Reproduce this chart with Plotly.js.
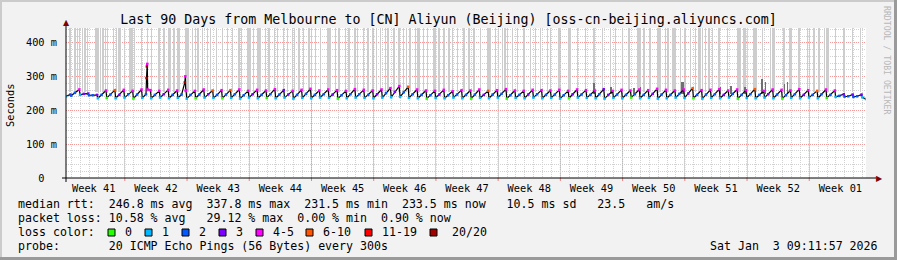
<!DOCTYPE html>
<html>
<head>
<meta charset="utf-8">
<script src="https://cdn.plot.ly/plotly-3.0.1.min.js"></script>
<style>
html,body{margin:0;padding:0;background:#f2f2f2;}
#chart{width:897px;height:260px;}
</style>
</head>
<body>
<div id="chart"></div>
<script>
// ---------------- DATA ----------------
const titleText = "Last 90 Days from Melbourne to [CN] Aliyun (Beijing) [oss-cn-beijing.aliyuncs.com]";
const weekLabels = ["Week 41","Week 42","Week 43","Week 44","Week 45","Week 46","Week 47","Week 48","Week 49","Week 50","Week 51","Week 52","Week 01"];
const yTickVals = [0, 100, 200, 300, 400];
const yTickText = ["0\u00a0\u00a0", "100 m", "200 m", "300 m", "400 m"];

// daily median RTT (ms): value at day start, evening peak, post-drop low
const rttMid = [
 242,252,249,245,246,247,246,248,247,248,
 246,248,246,247,246,247,248,246,247,248,
 245,248,246,248,247,247,246,249,246,248,
 247,245,248,248,246,248,251,255,254,248,
 246,245,247,245,247,246,247,246,247,249,
 245,246,247,248,246,247,245,248,247,246,
 248,246,247,246,248,246,249,247,246,249,
 250,246,247,248,246,249,246,248,246,248,
 247,245,248,246,246,248,246,243,242,242];
const rttPeak = [
 247,262,250,246,259,260,261,258,262,260,
 258,261,259,260,258,262,259,260,260,262,
 258,261,259,263,260,258,261,264,259,262,
 260,258,263,261,259,262,266,272,270,262,
 259,258,261,257,260,259,262,258,260,263,
 259,258,261,260,259,261,258,262,260,259,
 263,258,261,259,262,260,264,261,259,262,
 266,260,261,263,259,262,260,263,258,262,
 261,259,263,260,258,262,259,248,247,247];
const rttLow = [
 244,246,245,236,237,236,238,235,237,236,
 238,236,237,235,236,238,237,236,237,235,
 238,236,237,236,238,235,237,236,238,237,
 235,236,238,237,236,238,239,240,237,236,
 235,237,236,238,236,235,237,236,238,235,
 237,236,238,236,237,235,236,238,237,236,
 235,237,236,238,236,237,235,236,238,237,
 236,235,237,236,238,235,237,236,238,236,
 235,237,236,238,236,237,240,241,240,239];
// loss colour class (index into lossLabels) for each sample
const lossMid = [
 1,2,3,2,2,2,3,2,2,2, 2,3,2,2,2,2,3,2,2,2, 2,3,2,2,2,3,2,2,2,2,
 3,2,2,2,2,3,2,3,2,2, 2,2,3,2,2,2,2,3,2,2, 2,2,3,2,2,2,2,3,2,2,
 2,3,2,2,2,2,3,2,2,2, 3,2,2,2,3,2,2,2,2,3, 2,2,2,3,2,2,2,2,2,2];
const lossPeak = [
 3,4,3,3,4,5,4,4,4,4, 4,4,4,4,4,4,5,4,5,4, 4,4,4,4,3,4,4,4,4,4,
 4,4,4,4,4,4,4,4,5,4, 4,4,4,4,4,4,4,5,4,4, 4,4,4,4,4,4,4,4,4,4,
 3,4,4,4,4,4,4,4,4,4, 5,4,4,4,4,4,4,5,4,4, 4,4,4,4,5,4,4,3,3,3];
const lossLow = [
 2,1,2,1,0,1,1,0,1,1, 1,1,1,1,0,1,1,0,1,1, 1,1,0,1,1,1,1,1,1,1,
 0,1,1,1,1,1,1,1,1,1, 0,1,1,1,1,0,1,1,1,0, 1,1,1,1,1,1,0,1,1,1,
 1,1,1,0,1,1,1,1,1,1, 0,1,1,1,1,0,1,1,1,1, 0,1,1,1,1,0,1,2,2,1];
// short median spikes (day offset, ms, loss class)
const spikeEventDays = [9.06, 9.10, 9.14, 9.19, 13.37, 13.42, 13.47];
const spikeEventRtt  = [296, 330, 337.8, 262, 283, 301, 258];
const spikeEventLoss = [7, 7, 4, 4, 7, 4, 4];
const nowRtt = 233.5;

// smoke: individual pings far above the median (off scale)
const offScaleDays = [
 0.45,1.01,1.27,1.54,1.83,2.14,2.40,3.37,3.50,3.63,3.90,4.16,4.47,4.65,5.32,5.70,5.96,6.15,
 7.17,7.30,7.46,7.73,8.47,9.15,9.60,10.46,11.02,11.51,11.70,12.15,12.52,12.71,13.42,13.57,13.72,
 14.21,14.59,14.85,15.33,15.90,16.28,16.95,17.58,18.15,18.71,19.46,19.72,20.47,20.70,21.07,
 21.52,21.67,21.82,22.47,22.84,23.48,23.77,24.45,24.90,25.46,25.73,26.21,26.70,27.34,27.60,
 28.09,28.65,29.47,29.62,29.78,30.34,30.71,31.47,31.84,32.51,32.77,33.45,33.97,34.46,34.95,
 35.40,35.97,36.22,36.90,37.46,37.95,38.33,38.70,39.34,39.52,39.71,40.20,40.65,41.40,41.59,
 41.96,42.52,43.09,43.46,44.02,44.77,45.34,45.90,46.65,47.40,47.59,47.78,48.34,49.08,49.37,
 49.65,50.21,50.77,51.52,52.28,52.84,53.40,54.15,54.53,55.46,56.59,56.78,57.52,58.47,59.40,
 60.33,61.28,61.84,62.58,63.34,64.27,64.46,64.65,65.02,65.70,66.52,66.71,66.90,67.47,67.73,
 68.21,68.40,68.59,69.15,69.71,70.28,70.84,71.21,71.40,71.58,71.97,72.34,72.71,73.46,74.40,
 75.52,75.71,75.90,76.27,76.47,77.40,77.55,77.70,78.33,79.28,79.46,79.65,80.78,81.45,81.64,
 82.46,83.40,84.15,84.71,85.35,85.53,85.72,86.59,87.52,88.46,89.40];
const OFFSCALE_MS = 480;
// denser smoke reaching moderately above the median
const darkSmokeDays = [59.4, 61.3, 63.9, 64.6, 69.3, 69.5, 73.6, 74.8, 76.4, 78.3, 78.7, 80.8, 81.2];
const darkSmokeTop  = [282, 268, 266, 268, 283, 285, 270, 272, 268, 293, 285, 278, 283];

const lossLabels = ["0","1","2","3","4-5","6-10","11-19","20/20"];
const lossColors = ["#26ff00","#00b8ff","#0059ff","#7e00ff","#ff00ff","#ff5500","#ff0000","#a00000"];

const statLine1 = "median rtt:  246.8 ms avg  337.8 ms max  231.5 ms min  233.5 ms now   10.5 ms sd   23.5   am/s";
const statLine2 = "packet loss: 10.58 % avg   29.12 % max  0.00 % min  0.90 % now";
const lossTitle = "loss color:";
const probeLine = "probe:       20 ICMP Echo Pings (56 Bytes) every 300s";
const stampText = "Sat Jan  3 09:11:57 2026";
const vendorText = "RRDTOOL / TOBI OETIKER";

// ---------------- TIME AXIS ----------------
const DAY = 864e5;
const startMs = Date.UTC(2025, 9, 5, 9, 11, 57);
const spanDays = 90;
const off = ms => (ms - startMs) / DAY;
const firstMidnight = off(Date.UTC(2025, 9, 6));
const firstSunday = off(Date.UTC(2025, 9, 12));
const weekBounds = [];
for (let s = firstSunday - 7; s < spanDays + 7; s += 7) weekBounds.push(s);
const weekMids = weekLabels.map((_, i) => (weekBounds[i] + weekBounds[i + 1]) / 2);
const weekLines = weekBounds.filter(s => s > 0 && s < spanDays);
const SAMPLE_OFFS = [0, 12 / 24, 14 / 24];

// build median series
let pts = [];
for (let d = 0; d < rttMid.length; d++) {
  pts.push([d + SAMPLE_OFFS[0], rttMid[d], lossMid[d]]);
  pts.push([d + SAMPLE_OFFS[1], rttPeak[d], lossPeak[d]]);
  pts.push([d + SAMPLE_OFFS[2], rttLow[d], lossLow[d]]);
}
spikeEventDays.forEach((x, i) => pts.push([x, spikeEventRtt[i], spikeEventLoss[i]]));
pts.push([spanDays, nowRtt, 1]);
pts.sort((a, b) => a[0] - b[0]);

// ---------------- GEOMETRY HELPERS ----------------
const L = 66, T = 28, W = 800, H = 150;
const PX = px => (px - L) / W;
const PY = py => (T + H - py) / H;
const MONO = "DejaVu Sans Mono";

const SMOKE_BASE = 256;
const traces = [
  { type: "bar", x: offScaleDays, y: offScaleDays.map(() => OFFSCALE_MS - SMOKE_BASE), base: SMOKE_BASE,
    width: 0.15, marker: { color: "#cdcdcd", line: { width: 0 } }, hoverinfo: "skip" },
  { type: "bar", x: darkSmokeDays, y: darkSmokeTop.map(v => v - 250), base: 250,
    width: 0.14, marker: { color: "#707070", line: { width: 0 } }, hoverinfo: "skip" },
  { type: "scatter", mode: "lines", x: pts.map(p => p[0]), y: pts.map(p => p[1]),
    line: { color: "#000000", width: 1.2 }, hoverinfo: "skip" },
  { type: "scatter", mode: "markers", x: pts.map(p => p[0]), y: pts.map(p => p[1]),
    marker: { symbol: "square", size: 2.5, color: pts.map(p => lossColors[p[2]]), line: { width: 0 } },
    hoverinfo: "skip" }
];

const shapes = [];
weekLines.forEach(x => {
  shapes.push({ type: "line", xref: "x", yref: "paper", x0: x, x1: x, y0: 0, y1: 1, layer: "below",
    line: { color: "#f29a9a", width: 1, dash: "1px,1px" } });
  shapes.push({ type: "line", xref: "x", yref: "paper", x0: x, x1: x, y0: PY(181), y1: 0,
    line: { color: "#f08080", width: 1 } });
});
// axes with arrows
shapes.push({ type: "line", xref: "paper", yref: "paper", x0: PX(62), x1: PX(876), y0: 0, y1: 0, line: { color: "#000", width: 1 } });
shapes.push({ type: "line", xref: "paper", yref: "paper", x0: 0, x1: 0, y0: PY(182), y1: PY(24), line: { color: "#000", width: 1 } });
// frame
shapes.push({ type: "rect", xref: "paper", yref: "paper", x0: PX(0), x1: PX(897), y0: PY(0), y1: PY(2), fillcolor: "#cbcbcb", line: { width: 0 } });
shapes.push({ type: "rect", xref: "paper", yref: "paper", x0: PX(0), x1: PX(2), y0: PY(0), y1: PY(260), fillcolor: "#cbcbcb", line: { width: 0 } });
shapes.push({ type: "rect", xref: "paper", yref: "paper", x0: PX(0), x1: PX(897), y0: PY(257), y1: PY(260), fillcolor: "#9a9a9a", line: { width: 0 } });
shapes.push({ type: "rect", xref: "paper", yref: "paper", x0: PX(894), x1: PX(897), y0: PY(0), y1: PY(260), fillcolor: "#9a9a9a", line: { width: 0 } });

// loss colour legend boxes
const boxX = [108, 145, 182, 219, 256, 306, 365, 430];
const boxLabelX = [123, 160, 197, 234, 271, 321, 380, 450];
lossColors.forEach((c, i) => {
  shapes.push({ type: "rect", xref: "paper", yref: "paper", x0: PX(boxX[i]), x1: PX(boxX[i] + 7),
    y0: PY(236), y1: PY(229), fillcolor: c, line: { color: "#000", width: 1 } });
});

const ann = (text, px, py, opts = {}) => Object.assign({
  text, xref: "paper", yref: "paper", x: PX(px), y: PY(py), xanchor: "left", yanchor: "middle",
  showarrow: false, font: { family: MONO, size: 11.6, color: "#000" }
}, opts);
const nb = s => s.replace(/ /g, "\u00a0");

const annotations = [
  ann(nb(statLine1), 16, 204),
  ann(nb(statLine2), 16, 218),
  ann(nb(lossTitle), 16, 232),
  ann(nb(probeLine), 16, 246),
  ann(nb(stampText), 880, 246, { xanchor: "right" }),
  ann("Seconds", 10, 105, { xanchor: "center", textangle: -90, font: { family: MONO, size: 10.3, color: "#000" } }),
  ann(vendorText, 887, 60, { xanchor: "center", textangle: 90, font: { family: MONO, size: 8.2, color: "#b8b8b8" } }),
  ann("\u25B2", 66, 23, { xanchor: "center", font: { family: "DejaVu Sans", size: 8, color: "#7f0000" } }),
  ann("\u25B6", 879, 178, { xanchor: "center", font: { family: "DejaVu Sans", size: 8, color: "#7f0000" } })
];
lossLabels.forEach((t, i) => annotations.push(ann(t, boxLabelX[i], 232)));

const layout = {
  width: 897, height: 260,
  margin: { l: L, r: 897 - L - W, t: T, b: 260 - T - H, pad: 0 },
  paper_bgcolor: "#f2f2f2", plot_bgcolor: "#ffffff",
  showlegend: false, barmode: "overlay", bargap: 0,
  title: { text: titleText, font: { family: MONO, size: 13.3, color: "#000" },
    xref: "container", x: 0.5, xanchor: "center", yref: "container", y: 1 - 19 / 260, yanchor: "middle" },
  xaxis: {
    range: [0, spanDays], tickmode: "array", tickvals: weekMids, ticktext: weekLabels,
    ticks: "outside", ticklen: 1, tickcolor: "rgba(0,0,0,0)",
    tickfont: { family: MONO, size: 10.3, color: "#000" },
    showgrid: false, zeroline: false, showline: false, fixedrange: true,
    minor: { tick0: firstMidnight, dtick: 1, showgrid: true, gridcolor: "#d2d2d2", griddash: "1px,1px", gridwidth: 1, ticks: "" }
  },
  yaxis: {
    range: [0, 444], tickmode: "array", tickvals: yTickVals, ticktext: yTickText,
    ticks: "outside", ticklen: 6, tickcolor: "rgba(0,0,0,0)",
    tickfont: { family: MONO, size: 10.3, color: "#000" },
    showgrid: true, gridcolor: "#f29a9a", griddash: "1px,1px", gridwidth: 1,
    zeroline: false, showline: false, fixedrange: true,
    minor: { tick0: 0, dtick: 20, showgrid: true, gridcolor: "#d2d2d2", griddash: "1px,1px", gridwidth: 1, ticks: "" }
  },
  shapes, annotations
};

Plotly.newPlot("chart", traces, layout, { staticPlot: true, displayModeBar: false });
</script>
</body>
</html>
